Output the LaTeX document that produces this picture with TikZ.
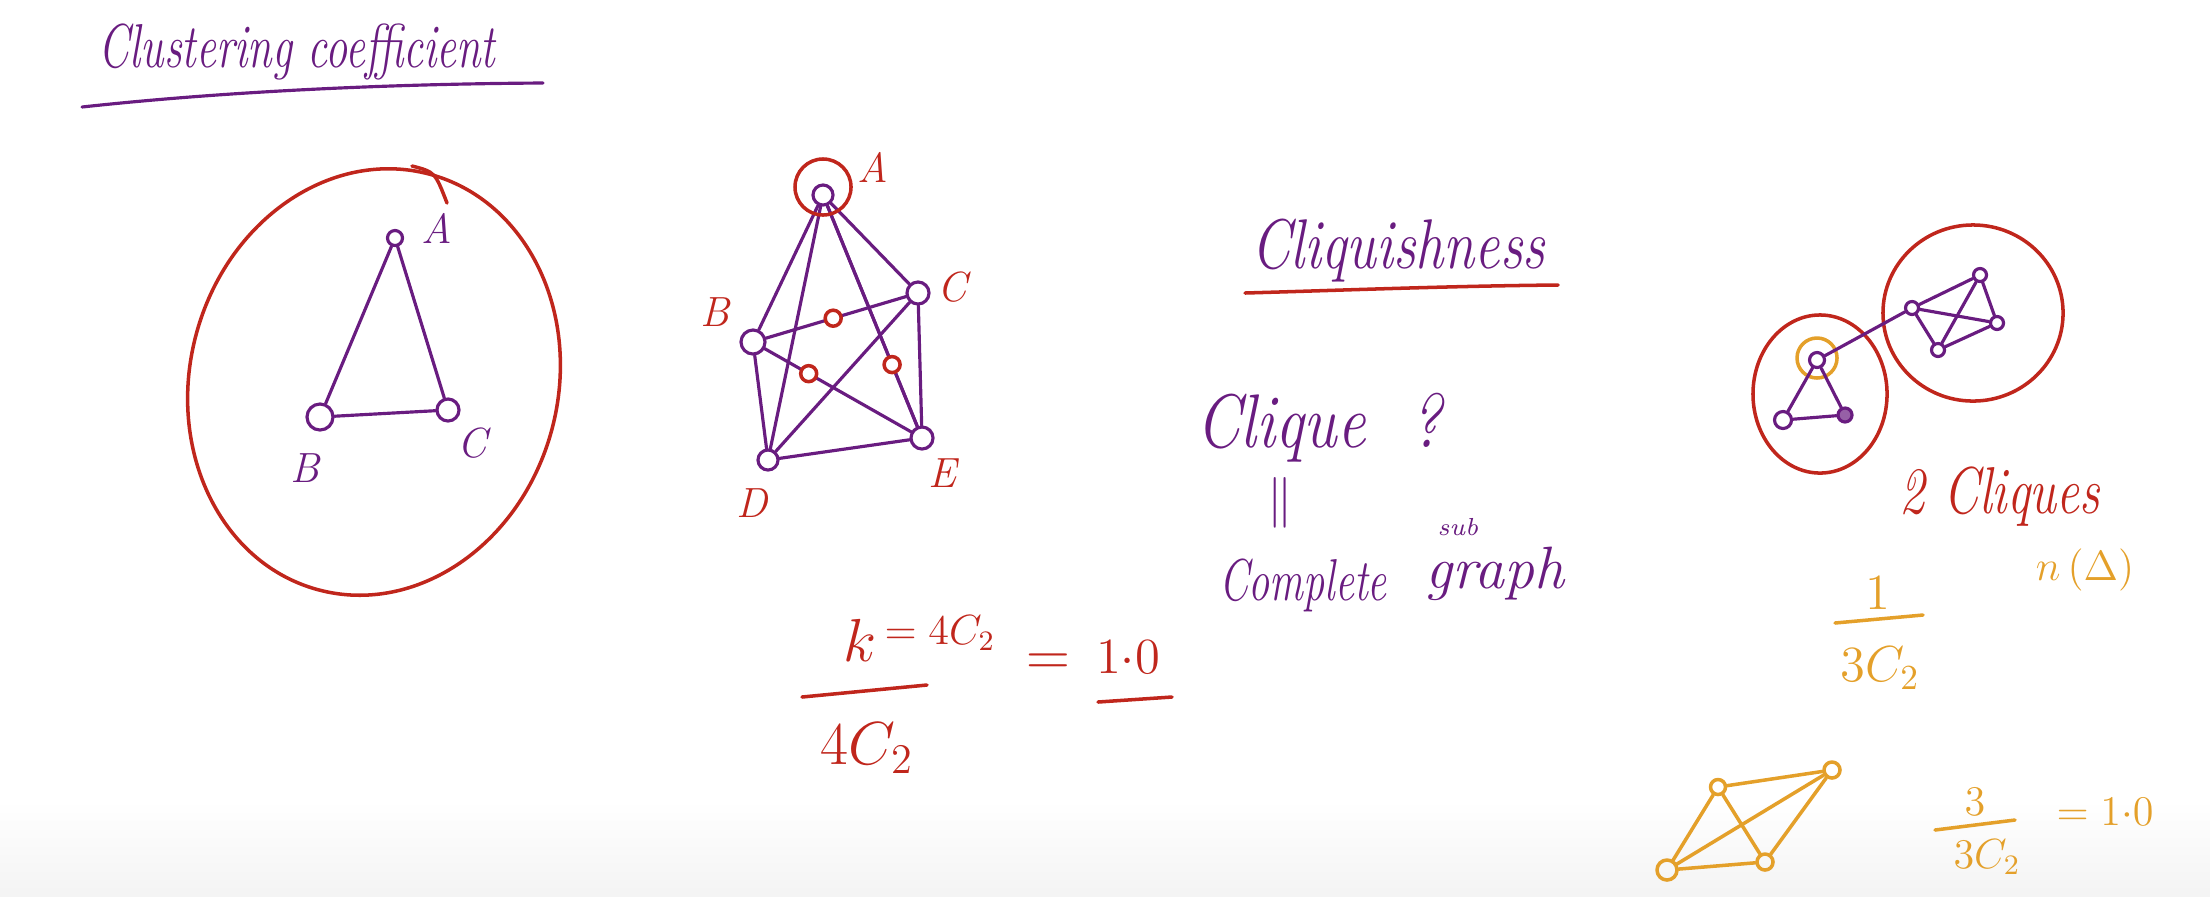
\documentclass[tikz,border=0pt]{standalone}
\usepackage{amsmath,amssymb}
\usepackage{tikz}
\usetikzlibrary{arrows.meta}
\usepackage{xcolor}
\definecolor{penpurple}{RGB}{105,28,128}
\definecolor{penred}{RGB}{192,38,28}
\definecolor{penyellow}{RGB}{228,160,42}

\begin{document}
\begin{tikzpicture}[x=0.01cm,y=-0.01cm,line cap=round,line join=round,
  hw/.style={inner sep=0pt,font=\fontsize{#1}{#1}\selectfont\itshape},
  vtx/.style={circle,draw=penpurple,line width=0.9pt,inner sep=0pt,minimum size=#1},
  yvtx/.style={circle,draw=penyellow,line width=1pt,inner sep=0pt,minimum size=#1},
  xmk/.style={circle,draw=penred,line width=1pt,fill=white,inner sep=0pt,minimum size=0.16cm},
  pline/.style={draw=penpurple,line width=0.9pt},
  yline/.style={draw=penyellow,line width=1pt},
  rline/.style={draw=penred,line width=1pt}]
\useasboundingbox (0,0) rectangle (2210,896);
\shade[top color=white,bottom color=gray!9] (0,800) rectangle (2210,896);
\node[hw=12.6,yscale=1.4,anchor=base,text=penpurple] (ttlclust) at (297,67) {Clustering coefficient};
\draw[pline] (82,107) .. controls (220,92) and (380,84) .. (543,83);
\node[vtx=0.15cm] (a1) at (395,238) {};
\node[vtx=0.26cm] (b1) at (320,417) {};
\node[vtx=0.22cm] (c1) at (448,410) {};
\draw[pline] (a1) -- (b1);
\draw[pline] (b1) -- (c1);
\draw[pline] (c1) -- (a1);
\node[hw=12,text=penpurple] (la1) at (437,228) {A};
\node[hw=12,text=penpurple] (lb1) at (305,468) {B};
\node[hw=12,text=penpurple] (lc1) at (472,443) {C};
\draw[rline,rotate around={-15:(374,382)}] (374,382) ellipse [x radius=1.84cm,y radius=2.15cm];
\draw[rline] (412,166) .. controls (435,172) .. (447,203);
\node[vtx=0.2cm] (a2) at (823,195) {};
\node[vtx=0.24cm] (b2) at (753,342) {};
\node[vtx=0.22cm] (c2) at (918,293) {};
\node[vtx=0.2cm] (d2) at (768,460) {};
\node[vtx=0.22cm] (e2) at (922,438) {};
\draw[pline] (a2) -- (b2);
\draw[pline] (a2) -- (c2);
\draw[pline] (a2) -- (d2);
\draw[pline] (a2) -- (e2);
\draw[pline] (b2) -- (d2);
\draw[pline] (c2) -- (d2);
\draw[pline] (c2) -- (e2);
\draw[pline] (d2) -- (e2);
\draw[pline] (b2) -- node[xmk,pos=0.48] (x1) {} (c2);
\draw[pline] (b2) -- node[xmk,pos=0.3] (x2) {} (e2);
\draw[pline] (a2) -- node[xmk,pos=0.72] (x3) {} (e2);
\node[circle,draw=penred,line width=1pt,inner sep=0pt,minimum size=0.56cm,yshift=0.08cm] (ring2) at (a2) {};
\node[hw=12,text=penred] (la2) at (873,167) {A};
\node[hw=12,text=penred] (lb2) at (715,312) {B};
\node[hw=12,text=penred] (lc2) at (952,287) {C};
\node[hw=12,text=penred] (ld2) at (752,503) {D};
\node[hw=12,text=penred] (le2) at (942,473) {E};
\node[hw=16,text=penred] (knum) at (860,640) {$k$};
\node[hw=12,text=penred] (kval) at (940,633) {$=4C_2$};
\draw[rline] (802,697) -- (927,685);
\node[hw=17,text=penred] (kden) at (867,748) {$4C_2$};
\node[hw=16,text=penred] (keq) at (1048,665) {$=$};
\node[hw=15,text=penred] (kres) at (1128,657) {$1{\cdot}0$};
\draw[rline] (1098,702) -- (1172,697);
\node[hw=16,yscale=1.25,anchor=base,text=penpurple] (ttlcliq) at (1398,268) {Cliquishness};
\draw[rline] (1245,293) .. controls (1350,290) and (1450,286) .. (1558,285);
\node[hw=18,yscale=1.2,anchor=base,text=penpurple] (qcliq) at (1319,447) {Clique\ \ ?};
\node[hw=14,text=penpurple] (qeq) at (1280,503) {$\|$};
\node[hw=7,text=penpurple] (qsub) at (1458,527) {sub};
\node[hw=12,yscale=1.4,text=penpurple] (qcomp) at (1303,585) {Complete};
\node[hw=17,text=penpurple] (qgraph) at (1495,574) {graph};
\draw[rline] (1820,394) ellipse [x radius=0.67cm,y radius=0.79cm];
\draw[rline] (1973,313) ellipse [x radius=0.9cm,y radius=0.88cm];
\node[vtx=0.15cm] (t3) at (1817,360) {};
\node[vtx=0.17cm] (l3) at (1783,420) {};
\node[vtx=0.14cm,fill=penpurple!70] (r3) at (1845,415) {};
\node[circle,draw=penyellow,line width=1pt,inner sep=0pt,minimum size=0.4cm] (ring3) at (1817,358) {};
\node[vtx=0.13cm] (l4) at (1912,308) {};
\node[vtx=0.13cm] (t4) at (1980,275) {};
\node[vtx=0.13cm] (r4) at (1997,323) {};
\node[vtx=0.13cm] (b4) at (1938,350) {};
\draw[pline] (t3) -- (l3);
\draw[pline] (l3) -- (r3);
\draw[pline] (r3) -- (t3);
\draw[pline] (t3) -- (l4);
\draw[pline] (l4) -- (t4);
\draw[pline] (t4) -- (r4);
\draw[pline] (r4) -- (b4);
\draw[pline] (b4) -- (l4);
\draw[pline] (t4) -- (b4);
\draw[pline] (l4) -- (r4);
\node[hw=14.5,yscale=1.3,anchor=base,text=penred] (twocl) at (2000,513) {2 Cliques};
\node[hw=14,text=penyellow] (ynum) at (1878,593) {$1$};
\draw[yline] (1835,623) -- (1923,615);
\node[hw=14,text=penyellow] (yden) at (1880,668) {$3C_2$};
\node[hw=13,text=penyellow] (ntri) at (2085,570) {$n\,(\Delta)$};
\node[yvtx=0.15cm] (p1) at (1718,787) {};
\node[yvtx=0.16cm] (p2) at (1832,770) {};
\node[yvtx=0.2cm] (p3) at (1667,870) {};
\node[yvtx=0.16cm] (p4) at (1765,862) {};
\draw[yline] (p1) -- (p2);
\draw[yline] (p1) -- (p3);
\draw[yline] (p1) -- (p4);
\draw[yline] (p2) -- (p3);
\draw[yline] (p2) -- (p4);
\draw[yline] (p3) -- (p4);
\node[hw=13,text=penyellow] (bnum) at (1975,802) {$3$};
\draw[yline] (1935,830) -- (2015,820);
\node[hw=12,text=penyellow] (bden) at (1987,857) {$3C_2$};
\node[hw=13,text=penyellow] (bres) at (2105,812) {$=1{\cdot}0$};
\end{tikzpicture}
\end{document}
